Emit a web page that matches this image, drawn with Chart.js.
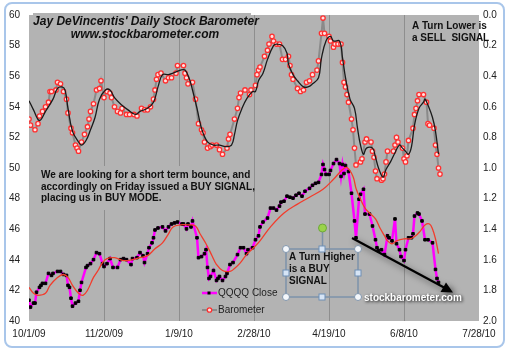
<!DOCTYPE html>
<html>
<head>
<meta charset="utf-8">
<script src="https://cdn.jsdelivr.net/npm/chart.js@4.4.0/dist/chart.umd.min.js"></script>
<style>
html, body { margin: 0; padding: 0; background: #fff; }
#wrap { width: 511px; height: 352px; }
</style>
</head>
<body>
<div id="wrap"><canvas id="chart" width="511" height="352"></canvas></div>
<script>
// x values are days counted from 10/1/09
var xTickDays = [0, 50, 100, 150, 200, 250, 300];

var qqqqDays = [0,1,3,4,5,7,8,9,11,13,15,16,19,21,23,25,26,27,28,29,31,33,34,35,38,39,41,43,45,47,49,50,52,54,56,59,61,63,65,68,69,72,74,76,77,79,80,82,83,84,86,89,91,93,95,97,99,102,103,105,106,108,109,112,113,115,117,118,119,120,121,123,125,126,127,129,131,132,134,136,139,141,143,145,146,149,151,153,154,156,159,161,163,165,167,168,170,172,174,176,178,180,182,184,187,189,191,193,195,196,197,198,200,201,203,205,207,208,209,210,211,213,215,217,218,220,221,223,224,227,229,231,232,233,235,237,239,240,242,244,245,247,248,250,251,253,255,256,257,259,260,262,264,266,269,271,272,273];
var qqqqClose = [41.36,40.91,41.17,41.17,41.88,42.20,42.33,42.46,42.46,43.11,42.98,43.11,43.24,43.24,43.04,42.98,42.33,42.20,41.49,40.97,41.17,41.29,42.01,42.52,43.50,43.62,43.75,44.01,44.47,44.40,43.75,43.56,43.75,44.08,43.50,43.50,44.01,44.08,44.01,43.69,44.08,44.14,44.47,44.27,43.82,44.40,44.79,45.11,45.44,45.95,46.08,46.15,45.89,46.15,46.34,46.41,46.47,46.34,46.34,46.02,46.34,46.15,46.54,45.44,44.14,44.21,44.40,44.66,43.50,42.78,42.91,43.30,42.65,42.78,42.91,42.65,42.91,43.11,43.69,43.82,44.34,44.79,44.79,44.40,44.66,44.79,45.31,45.57,46.15,46.47,46.73,47.38,47.38,47.25,47.51,47.77,47.83,48.16,48.09,48.03,48.22,48.35,48.16,48.48,48.67,48.87,49.00,49.06,49.58,50.23,49.90,49.58,49.58,49.84,50.29,50.55,50.29,49.45,50.23,49.64,50.16,49.77,48.35,46.54,45.44,47.96,48.28,48.61,46.99,46.99,46.21,45.31,44.79,44.60,44.66,44.34,45.57,45.44,45.24,46.67,45.05,44.66,44.21,43.95,44.66,45.44,45.44,45.70,46.86,47.06,46.99,46.54,45.31,45.31,45.11,43.37,42.78,42.52];

var qqqqAvgDays = [0,3,6,11,14,19,23,26,29,33,36,39,43,46,49,52,57,63,69,74,79,84,89,93,96,101,106,111,114,118,122,125,129,134,137,141,145,149,154,161,170,179,187,196,203,209,212,216,218,221,224,227,231,234,237,239,242,245,250,254,257,261,264,267,269,271,273];
var qqqqAvg = [42.20,41.81,41.68,41.81,42.33,42.85,43.04,42.85,42.33,41.81,41.68,42.01,42.85,43.30,43.82,44.08,44.14,43.95,44.01,44.14,44.27,44.72,45.11,45.70,46.15,46.28,46.28,46.21,45.70,45.05,44.27,43.69,43.30,43.24,43.43,43.82,44.34,44.72,45.24,46.15,47.06,47.64,48.09,48.61,49.26,49.90,50.03,49.45,48.67,47.96,47.38,47.06,46.67,46.08,45.57,45.24,45.05,45.24,45.37,45.37,45.50,45.89,46.28,46.34,46.02,45.37,44.40];

var baroDays = [0,1,4,6,7,9,11,13,14,15,18,19,21,23,25,26,28,29,31,32,33,35,37,39,40,41,43,45,47,48,50,52,54,55,57,59,61,62,65,67,70,72,75,77,79,81,83,84,85,86,88,91,93,95,98,99,103,104,105,106,109,111,113,115,116,117,119,121,122,125,127,129,132,133,134,137,139,140,141,144,147,148,151,152,153,154,157,159,160,162,163,165,167,169,171,173,174,175,176,179,181,183,185,187,189,192,193,195,196,197,200,201,203,204,206,208,209,210,211,212,213,215,216,217,218,221,222,224,225,228,229,230,231,232,235,236,237,238,239,243,244,245,246,249,250,251,252,253,256,257,258,259,260,263,265,266,267,270,271,272,273,274];
var baroValues = [0.68,0.72,0.75,0.71,0.66,0.63,0.60,0.57,0.50,0.50,0.49,0.44,0.45,0.50,0.55,0.64,0.74,0.77,0.85,0.87,0.89,0.83,0.78,0.73,0.68,0.63,0.58,0.49,0.48,0.43,0.54,0.50,0.51,0.54,0.60,0.63,0.64,0.61,0.65,0.65,0.65,0.66,0.61,0.62,0.62,0.60,0.55,0.49,0.42,0.39,0.38,0.43,0.41,0.41,0.38,0.33,0.33,0.38,0.41,0.45,0.44,0.55,0.71,0.75,0.77,0.83,0.87,0.86,0.85,0.85,0.88,0.91,0.87,0.81,0.78,0.68,0.61,0.54,0.51,0.49,0.52,0.49,0.46,0.39,0.36,0.34,0.27,0.23,0.19,0.14,0.17,0.19,0.19,0.29,0.29,0.27,0.33,0.39,0.42,0.48,0.50,0.49,0.44,0.43,0.39,0.36,0.30,0.12,0.02,0.12,0.14,0.17,0.21,0.19,0.19,0.19,0.31,0.44,0.47,0.52,0.57,0.68,0.75,0.87,0.98,0.96,0.94,0.83,0.81,0.83,0.89,0.93,1.02,1.07,1.08,1.07,1.04,0.96,0.89,0.89,0.85,0.80,0.83,0.87,0.94,0.96,0.92,0.82,0.74,0.65,0.61,0.56,0.52,0.52,0.57,0.71,0.72,0.74,0.85,0.91,1.00,1.04];

var baroAvgDays = [0,3,7,11,16,19,22,24,26,29,33,35,38,41,44,47,51,54,57,62,66,71,74,79,83,86,89,93,96,101,104,107,109,112,115,119,123,127,131,135,137,139,142,145,149,151,153,156,159,163,165,169,172,173,176,179,183,186,189,193,195,198,201,203,207,209,211,214,217,219,221,223,225,229,231,233,236,238,241,244,247,249,251,253,255,257,260,263,264,266,269,271,273];
var baroAvg = [0.56,0.62,0.69,0.63,0.55,0.48,0.47,0.49,0.61,0.76,0.83,0.85,0.82,0.75,0.67,0.55,0.49,0.49,0.54,0.59,0.62,0.65,0.63,0.61,0.57,0.47,0.39,0.39,0.38,0.36,0.36,0.42,0.49,0.61,0.74,0.83,0.85,0.85,0.86,0.85,0.78,0.69,0.61,0.55,0.50,0.50,0.43,0.38,0.29,0.20,0.19,0.20,0.25,0.32,0.39,0.43,0.47,0.47,0.45,0.41,0.28,0.17,0.14,0.17,0.17,0.28,0.41,0.55,0.61,0.74,0.85,0.91,0.87,0.87,0.93,1.00,1.06,1.01,0.96,0.90,0.85,0.87,0.89,0.91,0.86,0.72,0.61,0.57,0.55,0.59,0.67,0.76,0.91];

var plotGray = '#b3b3b3';
var textFont = '"Liberation Sans", Arial, sans-serif';

function pts(days, vals) {
    return days.map(function (d, i) { return { x: d, y: vals[i] }; });
}

function dateLabel(v) {
    var d = new Date(2009, 9, 1 + v);
    return (d.getMonth() + 1) + '/' + d.getDate() + '/' + String(d.getFullYear()).slice(2);
}

var decor = {
    id: 'decor',
    beforeDraw: function (chart) {
        var ctx = chart.ctx, a = chart.chartArea;
        ctx.save();
        ctx.fillStyle = '#fff';
        ctx.fillRect(0, 0, chart.width, chart.height);
        ctx.fillStyle = plotGray;
        ctx.fillRect(a.left, a.top, a.right - a.left, a.bottom - a.top);
        ctx.restore();
    },
    beforeDatasetsDraw: function (chart) {
        // the text boxes are opaque and hide the grid lines
        var ctx = chart.ctx;
        ctx.save();
        ctx.fillStyle = plotGray;
        ctx.fillRect(33, 13, 218, 20);
        ctx.fillRect(38, 166, 214, 44);
        ctx.restore();
    },
    afterDraw: function (chart) {
        var ctx = chart.ctx;
        ctx.save();
        ctx.fillStyle = '#111';
        ctx.textBaseline = 'middle';

        ctx.textAlign = 'center';
        ctx.font = 'italic bold 12px ' + textFont;
        ctx.fillText("Jay DeVincentis' Daily Stock Barometer", 146, 22);
        ctx.fillText('www.stockbarometer.com', 145, 35);

        ctx.textAlign = 'left';
        ctx.font = 'bold 10px ' + textFont;
        ctx.fillText('A Turn Lower is', 412, 26);
        ctx.fillText('a SELL  SIGNAL', 412, 38);

        ctx.fillText('We are looking for a short term bounce, and', 41, 175);
        ctx.fillText('accordingly on Friday issued a BUY SIGNAL,', 41, 187);
        ctx.fillText('placing us in BUY MODE.', 41, 198);

        // legend
        ctx.font = '10px ' + textFont;
        ctx.fillStyle = '#222';
        ctx.fillText('QQQQ Close', 218, 293);
        ctx.fillText('Barometer', 218, 310);
        ctx.lineWidth = 2.5;
        ctx.strokeStyle = '#ff00ff';
        ctx.beginPath(); ctx.moveTo(202, 293); ctx.lineTo(217, 293); ctx.stroke();
        ctx.fillStyle = '#000';
        ctx.fillRect(207.5, 291.5, 3, 3);
        ctx.lineWidth = 2;
        ctx.strokeStyle = '#8a8a8a';
        ctx.beginPath(); ctx.moveTo(202, 310); ctx.lineTo(217, 310); ctx.stroke();
        ctx.fillStyle = '#ffe2e2';
        ctx.strokeStyle = '#ff3030';
        ctx.lineWidth = 1.3;
        ctx.beginPath(); ctx.arc(209.5, 310, 2.2, 0, Math.PI * 2); ctx.fill(); ctx.stroke();

        // arrow with shadow
        ctx.save();
        ctx.shadowColor = 'rgba(0,0,0,0.55)';
        ctx.shadowBlur = 6;
        ctx.shadowOffsetX = 3;
        ctx.shadowOffsetY = 3;
        ctx.strokeStyle = '#000';
        ctx.fillStyle = '#000';
        ctx.lineWidth = 2.2;
        ctx.beginPath(); ctx.moveTo(352, 238); ctx.lineTo(444, 287.5); ctx.stroke();
        ctx.beginPath();
        ctx.moveTo(453, 292.5); ctx.lineTo(440.5, 292); ctx.lineTo(446, 282.5); ctx.closePath();
        ctx.fill();
        ctx.restore();

        // watermark
        ctx.save();
        ctx.shadowColor = 'rgba(0,0,0,0.9)';
        ctx.shadowBlur = 3;
        ctx.shadowOffsetX = 1;
        ctx.shadowOffsetY = 1;
        ctx.fillStyle = '#fff';
        ctx.font = 'bold 10px ' + textFont;
        ctx.fillText('stockbarometer.com', 364, 298);
        ctx.restore();

        // selected text box
        ctx.fillStyle = '#111';
        ctx.font = 'bold 10px ' + textFont;
        ctx.fillText('A Turn Higher', 289, 257);
        ctx.fillText('is a BUY', 289, 269);
        ctx.fillText('SIGNAL', 289, 281);
        ctx.strokeStyle = '#7d93ab';
        ctx.lineWidth = 1.5;
        ctx.strokeRect(286, 249, 72, 48);
        ctx.beginPath(); ctx.moveTo(322.5, 232); ctx.lineTo(322.5, 246); ctx.stroke();
        ctx.fillStyle = '#9ad34a';
        ctx.strokeStyle = '#6ea83a';
        ctx.lineWidth = 1;
        ctx.beginPath(); ctx.arc(322.5, 228, 4, 0, Math.PI * 2); ctx.fill(); ctx.stroke();
        var corners = [[286, 249], [358, 249], [286, 297], [358, 297]];
        corners.forEach(function (p) {
            ctx.fillStyle = '#f4f7fb';
            ctx.strokeStyle = '#8296ad';
            ctx.beginPath(); ctx.arc(p[0], p[1], 3.5, 0, Math.PI * 2); ctx.fill(); ctx.stroke();
        });
        var mids = [[322, 249], [322, 297], [286, 273], [358, 273]];
        mids.forEach(function (p) {
            ctx.fillStyle = '#d6e4f5';
            ctx.strokeStyle = '#6f8fb5';
            ctx.fillRect(p[0] - 3, p[1] - 3, 6, 6);
            ctx.strokeRect(p[0] - 3, p[1] - 3, 6, 6);
        });

        // frame
        ctx.strokeStyle = '#a9c6ea';
        ctx.lineWidth = 2;
        ctx.beginPath();
        ctx.roundRect(5, 3, 499, 344, 7);
        ctx.stroke();
        ctx.restore();
    }
};

var tickFont = { family: textFont, size: 10 };

new Chart(document.getElementById('chart'), {
    type: 'line',
    data: {
        datasets: [
            {
                label: 'QQQQ avg',
                data: pts(qqqqAvgDays, qqqqAvg),
                yAxisID: 'y',
                borderColor: '#f23c2c',
                borderWidth: 1.3,
                pointRadius: 0,
                tension: 0.4,
                order: 1
            },
            {
                label: 'QQQQ Close',
                data: pts(qqqqDays, qqqqClose),
                yAxisID: 'y',
                borderColor: '#ff00ff',
                borderWidth: 2.5,
                pointStyle: 'rect',
                pointRadius: 1.8,
                pointBorderWidth: 1,
                pointBackgroundColor: '#000',
                pointBorderColor: '#000',
                order: 2
            },
            {
                label: 'Barometer avg',
                data: pts(baroAvgDays, baroAvg),
                yAxisID: 'y2',
                borderColor: '#1a1a1a',
                borderWidth: 1.3,
                pointRadius: 0,
                tension: 0.4,
                order: 3
            },
            {
                label: 'Barometer',
                data: pts(baroDays, baroValues),
                yAxisID: 'y2',
                borderColor: '#8a8a8a',
                borderWidth: 2,
                pointRadius: 2.2,
                pointBorderWidth: 1.3,
                pointBackgroundColor: '#ffe2e2',
                pointBorderColor: '#ff3030',
                order: 4
            }
        ]
    },
    options: {
        responsive: false,
        animation: false,
        layout: { padding: { top: 12, left: 0, right: 0, bottom: 0 } },
        plugins: { legend: { display: false }, tooltip: { enabled: false } },
        scales: {
            x: {
                type: 'linear',
                min: 0,
                max: 300,
                afterBuildTicks: function (s) { s.ticks = xTickDays.map(function (v) { return { value: v }; }); },
                afterFit: function (s) { s.height = 31; },
                grid: {
                    drawTicks: false,
                    lineWidth: 1,
                    color: function (c) {
                        return (c.tick && (c.tick.value === 0 || c.tick.value === 300)) ? 'rgba(0,0,0,0)' : '#8e8e8e';
                    }
                },
                border: { display: false },
                ticks: { padding: 7, font: tickFont, color: '#222', maxRotation: 0, autoSkip: false, callback: dateLabel }
            },
            y: {
                position: 'left',
                min: 40,
                max: 60,
                afterFit: function (s) { s.width = 29; },
                grid: { display: false, drawTicks: false },
                border: { display: false },
                ticks: { stepSize: 2, padding: 9, font: tickFont, color: '#222' }
            },
            y2: {
                position: 'right',
                min: 0,
                max: 2,
                reverse: true,
                afterFit: function (s) { s.width = 32; },
                grid: { display: false, drawTicks: false },
                border: { display: false },
                ticks: { stepSize: 0.2, padding: 4, font: tickFont, color: '#222', callback: function (v) { return v.toFixed(1); } }
            }
        }
    },
    plugins: [decor]
});
</script>
</body>
</html>
